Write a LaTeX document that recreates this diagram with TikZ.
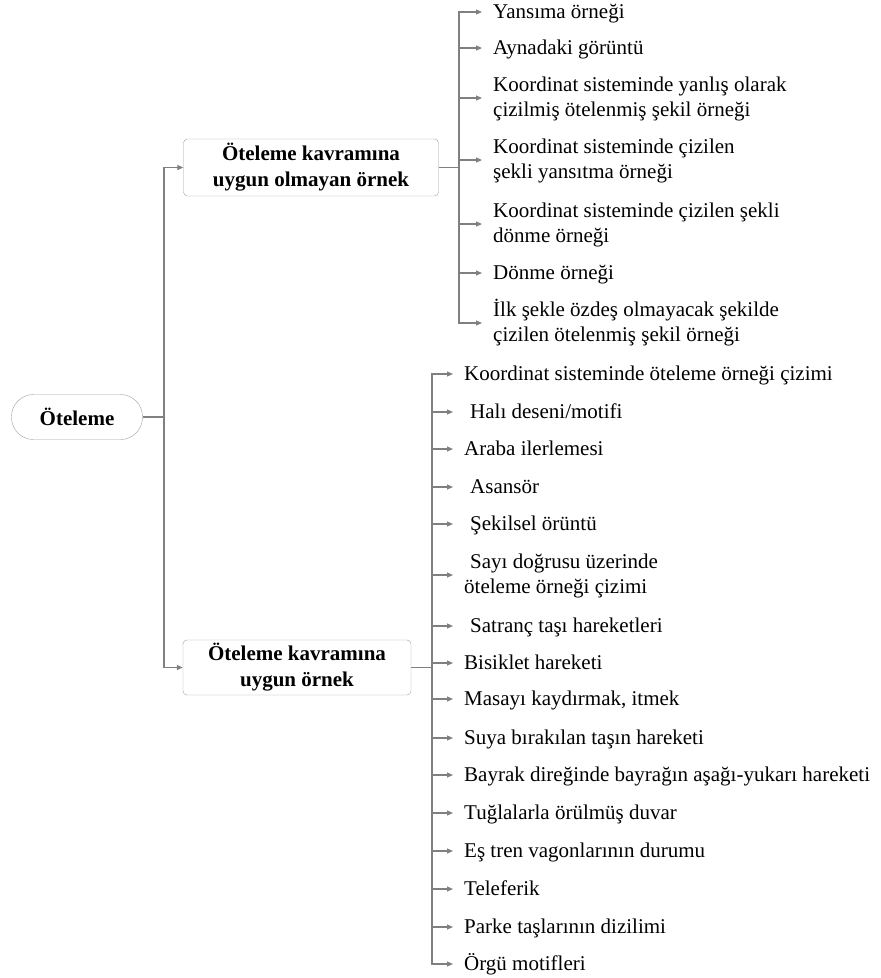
\documentclass[tikz,border=0pt]{standalone}
\usepackage{fontspec}
\setmainfont{Liberation Serif}
\usetikzlibrary{arrows.meta}
\begin{document}
\begin{tikzpicture}[x=1pt,y=-1pt,
  kutu/.style={draw=gray!75, rounded corners=4pt, align=center, inner sep=0pt, font=\bfseries\fontsize{21}{26}\selectfont},
  madde/.style={anchor=west, align=left, inner xsep=11pt, inner ysep=0pt, text height=13pt, text depth=1pt, font=\fontsize{21}{25}\selectfont},
  ikisatir/.style={madde, text height=38pt},
  cizgi/.style={draw=gray, line width=1.2pt},
  ok/.style={cizgi, -{Triangle[length=6pt,width=5pt]}}]
\useasboundingbox (0,0) rectangle (881,978);
\node[kutu, rounded corners=22pt, minimum width=131pt, minimum height=45pt] (kok) at (77,417) {Öteleme};
\node[kutu, minimum width=255pt, minimum height=57pt] (olmayan) at (311,167.5) {Öteleme kavramına\\uygun olmayan örnek};
\node[kutu, minimum width=228pt, minimum height=55pt] (uygun) at (297,667.5) {Öteleme kavramına\\uygun örnek};
\coordinate (j0) at (164,417);
\coordinate (j1) at (459,167.5);
\coordinate (j2) at (432,667.5);
% uygun olmayan ornekler
\node[madde] (a1) at (482,12) {Yansıma örneği};
\node[madde] (a2) at (482,48) {Aynadaki görüntü};
\node[ikisatir] (a3) at (482,98) {Koordinat sisteminde yanlış olarak\\çizilmiş ötelenmiş şekil örneği};
\node[ikisatir] (a4) at (482,160) {Koordinat sisteminde çizilen\\şekli yansıtma örneği};
\node[ikisatir] (a5) at (482,224) {Koordinat sisteminde çizilen şekli\\dönme örneği};
\node[madde] (a6) at (482,273) {Dönme örneği};
\node[ikisatir] (a7) at (482,323) {İlk şekle özdeş olmayacak şekilde\\çizilen ötelenmiş şekil örneği};
% uygun ornekler
\node[madde] (b1) at (453,374) {Koordinat sisteminde öteleme örneği çizimi};
\node[madde] (b2) at (453,412) {\hspace{6pt}Halı deseni/motifi};
\node[madde] (b3) at (453,449) {Araba ilerlemesi};
\node[madde] (b4) at (453,487) {\hspace{6pt}Asansör};
\node[madde] (b5) at (453,524) {\hspace{6pt}Şekilsel örüntü};
\node[ikisatir] (b6) at (453,575) {\hspace{6pt}Sayı doğrusu üzerinde\\öteleme örneği çizimi};
\node[madde] (b7) at (453,626) {\hspace{6pt}Satranç taşı hareketleri};
\node[madde] (b8) at (453,663) {Bisiklet hareketi};
\node[madde] (b9) at (453,699) {Masayı kaydırmak, itmek};
\node[madde] (b10) at (453,738) {Suya bırakılan taşın hareketi};
\node[madde] (b11) at (453,775) {Bayrak direğinde bayrağın aşağı-yukarı hareketi};
\node[madde] (b12) at (453,813) {Tuğlalarla örülmüş duvar};
\node[madde] (b13) at (453,851) {Eş tren vagonlarının durumu};
\node[madde] (b14) at (453,889) {Teleferik};
\node[madde] (b15) at (453,927) {Parke taşlarının dizilimi};
\node[madde] (b16) at (453,964) {Örgü motifleri};
% baglantilar
\path[cizgi] (kok.east) -- (j0);
\path[ok] (j0) |- (olmayan.west);
\path[ok] (j0) |- (uygun.west);
\path[cizgi] (olmayan.east) -- (j1);
\path[cizgi] (uygun.east) -- (j2);
\foreach \i in {1,...,7} \path[ok] (j1) |- (a\i.west);
\foreach \i in {1,...,16} \path[ok] (j2) |- (b\i.west);
\end{tikzpicture}
\end{document}
